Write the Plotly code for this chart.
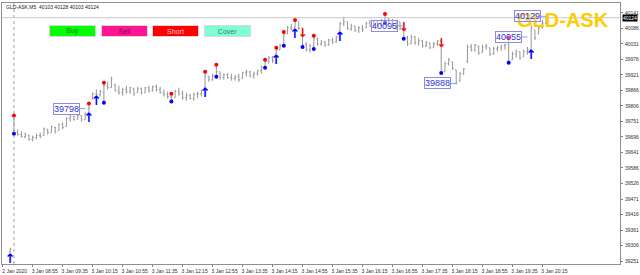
import plotly.graph_objects as go

# ---- data ----
bar_index = list(range(-1, 143))
opens = [39283,
 39770,39712,39705,39698,39702,39687,39694,39701,39701,39723,39712,39730,39719,39741,39733,39762,39769,39760,39773,39758,
 39784,39833,39851,39848,39855,39880,39873,39884,39862,39855,39866,39859,39869,39855,39869,39855,39873,39862,39876,39866,
 39855,39848,39841,39837,39859,39851,39837,39844,39834,39848,39851,39873,39912,39901,39916,39930,39909,39919,39909,39905,
 39912,39905,39926,39930,39916,39923,39934,39948,39966,39980,39994,40009,40023,40066,40087,40087,40109,40087,40027,40009,
 40023,40048,40030,40037,40027,40044,40037,40077,40102,40109,40084,40094,40077,40087,40087,40105,40094,40109,40098,40112,
 40123,40105,40094,40109,40087,40052,40030,40055,40034,40041,40023,40034,40016,40030,40041,39930,39959,39966,39937,39898,
 39923,39966,40019,40009,40023,39998,40019,40016,39994,40012,40016,40023,40027,39973,39994,40002,39984,40002,40009,40080,
 40066,40087,40103]
highs = [39298,
 39773,39723,39716,39712,39705,39701,39708,39712,39730,39726,39737,39733,39744,39748,39766,39776,39773,39776,39773,39784,
 39816,39855,39866,39866,39891,39894,39912,39887,39880,39873,39880,39876,39873,39876,39873,39876,39880,39880,39884,39876,
 39866,39859,39851,39866,39873,39862,39855,39851,39855,39859,39866,39930,39916,39923,39955,39930,39923,39926,39923,39919,
 39923,39930,39937,39934,39930,39937,39952,39973,39987,39987,40016,40030,40073,40094,40102,40116,40109,40087,40037,40030,
 40059,40052,40044,40041,40048,40052,40059,40109,40127,40109,40102,40094,40094,40098,40109,40116,40112,40116,40119,40137,
 40123,40119,40116,40109,40109,40059,40062,40059,40052,40044,40041,40034,40037,40044,40052,39966,39980,39966,39937,39930,
 39944,40027,40030,40030,40023,40027,40030,40016,40019,40023,40027,40030,40052,40002,40009,40002,40009,40019,40098,40080,
 40094,40116,40128]
lows = [39280,
 39708,39701,39694,39691,39683,39680,39687,39691,39701,39705,39712,39708,39719,39723,39733,39751,39755,39758,39751,39758,
 39784,39830,39844,39841,39819,39866,39873,39859,39848,39844,39851,39851,39844,39855,39848,39855,39855,39859,39859,39851,
 39841,39834,39823,39837,39844,39830,39826,39830,39826,39834,39841,39873,39894,39898,39912,39901,39901,39905,39898,39898,
 39894,39905,39912,39909,39905,39916,39923,39944,39959,39962,39994,40009,40023,40066,40080,40087,40080,40019,40002,39998,
 40012,40023,40023,40019,40023,40030,40034,40077,40094,40080,40077,40073,40069,40073,40087,40091,40087,40091,40094,40105,
 40098,40087,40080,40080,40048,40023,40030,40027,40023,40016,40019,40012,40016,40023,39926,39930,39952,39937,39884,39894,
 39919,39962,40002,40002,39991,39998,40009,39987,39991,40002,40005,40009,39962,39973,39980,39973,39984,39991,40009,40044,
 40066,40087,40103]
closes = [39294,
 39712,39705,39698,39705,39687,39694,39701,39698,39726,39712,39733,39716,39741,39730,39762,39769,39758,39773,39758,39780,
 39798,39851,39848,39859,39880,39873,39905,39862,39855,39866,39859,39873,39851,39869,39855,39873,39862,39876,39866,39855,
 39848,39841,39830,39859,39851,39837,39844,39834,39848,39851,39862,39919,39901,39916,39930,39909,39919,39909,39905,39912,
 39901,39926,39930,39916,39923,39934,39948,39966,39980,39969,40009,40023,40066,40087,40084,40109,40087,40027,40009,40023,
 40048,40030,40037,40027,40044,40037,40055,40102,40109,40084,40094,40077,40087,40080,40105,40094,40109,40098,40112,40123,
 40105,40094,40109,40087,40052,40030,40055,40034,40041,40023,40034,40016,40030,40041,39930,39959,39973,39941,39891,39923,
 39941,40019,40009,40027,39998,40019,40023,39994,40012,40016,40023,40027,39969,39994,40002,39980,40002,40009,40087,40052,
 40087,40103,40124]

red_dot_bars = [0, 20, 24, 42, 51, 54, 67, 70, 72, 75, 80, 99, 132]
blue_dot_bars = [0, 24, 42, 54, 67, 72, 77, 80, 99, 104, 114, 132]
buy_arrow_bars = [-1, 20, 22, 51, 70, 75, 87, 138]
short_arrow_bars = [77, 104, 114]
label_bars = [19, 104, 118, 137, 142]
label_prices = [39798, 40095, 39888, 40055, 40129]

x_tick_pos = [-3] + [5 + 8 * k for k in range(18)]
x_tick_text = ["2 Jan 2020", "3 Jan 08:55", "3 Jan 09:35", "3 Jan 10:15", "3 Jan 10:55", "3 Jan 11:35",
               "3 Jan 12:15", "3 Jan 12:55", "3 Jan 13:35", "3 Jan 14:15", "3 Jan 14:55", "3 Jan 15:35",
               "3 Jan 16:15", "3 Jan 16:55", "3 Jan 17:35", "3 Jan 18:15", "3 Jan 18:55", "3 Jan 19:35",
               "3 Jan 20:15"]
y_tick_text = ["39251", "39306", "39361", "39416", "39471", "39526", "39586", "39641", "39696",
               "39751", "39806", "39866", "39921", "39976", "40031", "40086", "40141"]
y_low_label, y_high_label = 39251, 40141
y_tick_pos = [y_low_label + (y_high_label - y_low_label) * k / 16 for k in range(17)]
last_price = 40124
header = "GLD-ASK,M5  40103 40128 40103 40124"
symbol = "GLD-ASK"
buttons = [("Buy", "#00FF00", "#1E7A1E"), ("Sell", "#FF1493", "#7A0A46"),
           ("Short", "#FF0000", "#FFD0D0"), ("Cover", "#7FFFD4", "#3C7A68")]

hi_map = dict(zip(bar_index, highs))
lo_map = dict(zip(bar_index, lows))

fig = go.Figure()
fig.add_trace(go.Ohlc(x=bar_index, open=opens, high=highs, low=lows, close=closes,
                      increasing_line_color="#959595", decreasing_line_color="#959595",
                      line_width=1, tickwidth=0.3, hoverinfo="skip", showlegend=False))
fig.add_trace(go.Scatter(x=red_dot_bars, y=[hi_map[b] for b in red_dot_bars], mode="markers",
                         marker=dict(color="#FF0000", size=4), showlegend=False, hoverinfo="skip"))
fig.add_trace(go.Scatter(x=blue_dot_bars, y=[lo_map[b] for b in blue_dot_bars], mode="markers",
                         marker=dict(color="#0000FF", size=4), showlegend=False, hoverinfo="skip"))
fig.add_trace(go.Scatter(x=buy_arrow_bars, y=[lo_map[b] for b in buy_arrow_bars], mode="text",
                         text=["<b>↑</b>"] * len(buy_arrow_bars), textposition="bottom center",
                         textfont=dict(color="#0000FF", size=13, family="DejaVu Sans"),
                         showlegend=False, hoverinfo="skip", cliponaxis=False))
fig.add_trace(go.Scatter(x=short_arrow_bars, y=[hi_map[b] for b in short_arrow_bars], mode="text",
                         text=["<b>↓</b>"] * len(short_arrow_bars), textposition="bottom center",
                         textfont=dict(color="#FF0000", size=12, family="DejaVu Sans"),
                         showlegend=False, hoverinfo="skip", cliponaxis=False))

# period separator and ask line
fig.add_shape(type="line", x0=0, x1=0, y0=0, y1=1, yref="paper", xref="x",
              line=dict(color="#A0A0A0", width=1, dash="dot"))
fig.add_shape(type="line", x0=0, x1=1, xref="paper", y0=last_price, y1=last_price, yref="y",
              line=dict(color="#C8C8C8", width=1))

W, H = 640, 275
ml, mr, mt, mb = 1, 19, 3, 10
pw, ph = W - ml - mr, H - mt - mb

def px_x(px):
    return (px - ml) / pw

def px_y(py):
    return 1 - (py - mt) / ph

ann = []
ann.append(dict(text=header, xref="paper", yref="paper", x=px_x(3), y=px_y(2), xanchor="left",
                yanchor="top", showarrow=False, font=dict(size=5, color="#202020", family="Liberation Sans")))
ann.append(dict(text="<b>" + symbol + "</b>", xref="paper", yref="paper", x=px_x(564), y=px_y(20),
                xanchor="center", yanchor="middle", showarrow=False,
                font=dict(size=20, color="#FFCC00", family="Liberation Sans")))
for k, (name, bg, fg) in enumerate(buttons):
    ann.append(dict(text=name, xref="paper", yref="paper", x=px_x(71.5 + 52 * k), y=px_y(31),
                    xanchor="center", yanchor="middle", showarrow=False, width=45, height=10,
                    bgcolor=bg, borderpad=0, borderwidth=1, bordercolor="#D8D8D8",
                    font=dict(size=7, color=fg, family="Liberation Sans")))
for b, p in zip(label_bars, label_prices):
    ann.append(dict(text=str(p), x=b, y=p, xref="x", yref="y", showarrow=True, arrowhead=0,
                    arrowwidth=1, arrowcolor="#9A9AE8", ax=-19, ay=0, bordercolor="#8C8CE6",
                    borderwidth=1, borderpad=0, bgcolor="rgba(255,255,255,0.3)",
                    font=dict(size=9, color="#3232D2", family="Liberation Sans")))
ann.append(dict(text=str(last_price), xref="paper", yref="y", x=1.003, y=last_price, xanchor="left",
                yanchor="middle", showarrow=False, bgcolor="#000000", borderpad=0,
                font=dict(size=5, color="#FFFFFF", family="Liberation Sans")))

fig.update_layout(
    width=W, height=H, margin=dict(l=ml, r=mr, t=mt, b=mb),
    paper_bgcolor="#FFFFFF", plot_bgcolor="#FFFFFF", showlegend=False,
    annotations=ann,
    xaxis=dict(range=[-3.19, 161.7], showgrid=False, zeroline=False, rangeslider=dict(visible=False),
               tickmode="array", tickvals=x_tick_pos, ticktext=x_tick_text, ticks="outside",
               ticklen=2, tickcolor="#808080", ticklabelshift=12, ticklabelstandoff=0,
               tickfont=dict(size=5, color="#303030", family="Liberation Sans"),
               showline=True, linecolor="#909090", mirror=True, linewidth=1, fixedrange=True),
    yaxis=dict(range=[39240.3, 40176.7], side="right", showgrid=False, zeroline=False,
               tickmode="array", tickvals=y_tick_pos, ticktext=y_tick_text, ticks="outside",
               ticklen=2, tickcolor="#808080", ticklabelstandoff=1,
               tickfont=dict(size=5, color="#303030", family="Liberation Sans"),
               showline=True, linecolor="#909090", mirror=True, linewidth=1, fixedrange=True),
)

fig.write_html("out.html")
